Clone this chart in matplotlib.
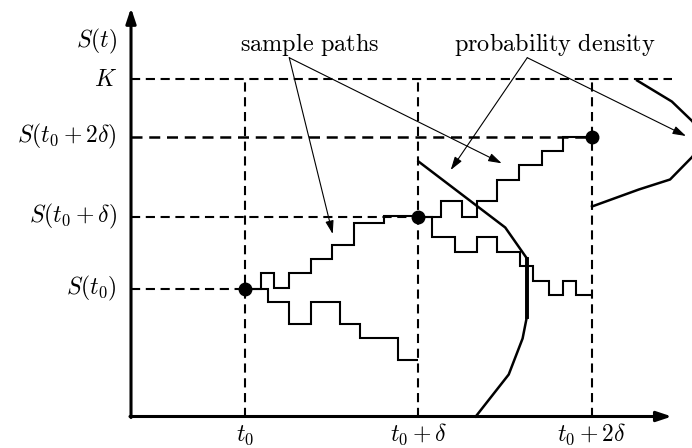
import numpy as np
import matplotlib.pyplot as plt

plt.rcParams['mathtext.fontset'] = 'cm'

# time in units of delta (t0 = 0), price in arbitrary units
s0 = 1.28
s1 = 2.0
s2 = 2.8
K = 3.375
t_axis = -0.657
t_axis_end = 2.46
s_axis_end = 4.085
t_K_end = 2.46

# sample paths (jump times and levels)
pathA_t = [0, 0.09, 0.17, 0.255, 0.38, 0.50, 0.63, 0.80, 1.0]
pathA_s = [1.28, 1.44, 1.29, 1.44, 1.58, 1.72, 1.94, 2.01]
pathB_t = [0, 0.13, 0.255, 0.38, 0.545, 0.665, 0.88, 1.0]
pathB_s = [1.28, 1.15, 0.93, 1.15, 0.93, 0.79, 0.565]
pathC_t = [1.0, 1.13, 1.25, 1.335, 1.455, 1.58, 1.71, 1.835, 2.0]
pathC_s = [2.0, 2.16, 2.0, 2.16, 2.37, 2.52, 2.66, 2.80]
pathD_t = [1.0, 1.08, 1.21, 1.335, 1.455, 1.585, 1.66, 1.75, 1.835, 1.91, 2.0]
pathD_s = [2.0, 1.80, 1.65, 1.80, 1.65, 1.505, 1.36, 1.215, 1.36, 1.215]

# densities drawn sideways (level, density)
dens1_s = [2.55, 1.89, 1.58, 1.00, 0.78, 0.42, 0.0]
dens1_f = [0.0, 0.50, 0.625, 0.625, 0.60, 0.52, 0.33]
dens2_s = [3.36, 3.15, 2.95, 2.77, 2.60, 2.37, 2.27, 2.10]
dens2_f = [0.26, 0.46, 0.58, 0.62, 0.58, 0.45, 0.27, 0.0]

# labels
ylabels = [r'$S(t)$', r'$K$', r'$S(t_0+2\delta)$', r'$S(t_0+\delta)$', r'$S(t_0)$']
ylabel_pos = [3.755, K, s2, s1, s0]
xlabels = [r'$t_0$', r'$t_0+\delta$', r'$t_0+2\delta$']
xlabel_pos = [0, 1, 2]

# annotation arrows
sample_txt = (0.37, 3.66)
sample_from = (0.255, 3.588)
sample_tips = [(0.5055, 1.825), (1.4795, 2.532)]
dens_txt = (1.785, 3.655)
dens_from = (1.627, 3.588)
dens_tips = [(1.1856, 2.465), (2.5418, 2.805)]

fig = plt.figure(figsize=(6.92, 4.48), dpi=100)
ax = fig.add_axes([0, 0, 1, 1])
ax.set_xlim(-1.4121, 2.5764)
ax.set_ylim(-0.315, 4.165)
ax.axis('off')

dash = (0, (4.4, 2.7))
dlw = 1.5
ax.plot([t_axis, t_K_end], [K, K], 'k', lw=dlw, ls=dash)
ax.plot([t_axis, 2], [s2, s2], 'k', lw=dlw + 0.3, ls=dash)
ax.plot([t_axis, 1], [s1, s1], 'k', lw=dlw, ls=dash)
ax.plot([t_axis, 0], [s0, s0], 'k', lw=dlw, ls=dash)
for t in xlabel_pos:
    ax.plot([t, t], [0, K], 'k', lw=dlw, ls=dash)

# axes with arrows
ax.annotate("", xy=(t_axis_end, 0), xytext=(t_axis - 0.006, 0),
            arrowprops=dict(arrowstyle="-|>,head_length=0.9,head_width=0.3",
                            lw=2.2, color='k', shrinkA=0, shrinkB=0))
ax.annotate("", xy=(t_axis, s_axis_end), xytext=(t_axis, -0.01),
            arrowprops=dict(arrowstyle="-|>,head_length=0.9,head_width=0.3",
                            lw=2.2, color='k', shrinkA=0, shrinkB=0))

for tt, ss in [(pathA_t, pathA_s), (pathB_t, pathB_s), (pathC_t, pathC_s), (pathD_t, pathD_s)]:
    ax.stairs(ss, tt, baseline=None, color='k', lw=1.5)

ax.plot(1 + np.array(dens1_f), dens1_s, 'k', lw=1.8, solid_joinstyle='miter')
ax.plot([1 + dens1_f[2], 1 + dens1_f[3]], [dens1_s[2], dens1_s[3]], 'k', lw=2.8)
ax.plot(2 + np.array(dens2_f), dens2_s, 'k', lw=1.8)

ax.plot([0, 1, 2], [s0, s1, s2], 'ko', ms=9, ls='none')

for lab, s in zip(ylabels, ylabel_pos):
    ax.text(-0.74, s, lab, ha='right', va='center', fontsize=17)
for lab, t in zip(xlabels, xlabel_pos):
    ax.text(t, -0.245, lab, ha='center', va='baseline', fontsize=17)

ax.text(*sample_txt, r'$\mathrm{sample\ paths}$', ha='center', va='baseline', fontsize=17.5)
ax.text(*dens_txt, r'$\mathrm{probability\ density}$', ha='center', va='baseline', fontsize=17.5)
for start, tips in [(sample_from, sample_tips), (dens_from, dens_tips)]:
    for tip in tips:
        ax.annotate("", xy=tip, xytext=start,
                    arrowprops=dict(arrowstyle="-|>,head_length=0.8,head_width=0.25",
                                    lw=0.8, color='k', shrinkA=0, shrinkB=0))

fig.savefig('out.png', dpi=100)
